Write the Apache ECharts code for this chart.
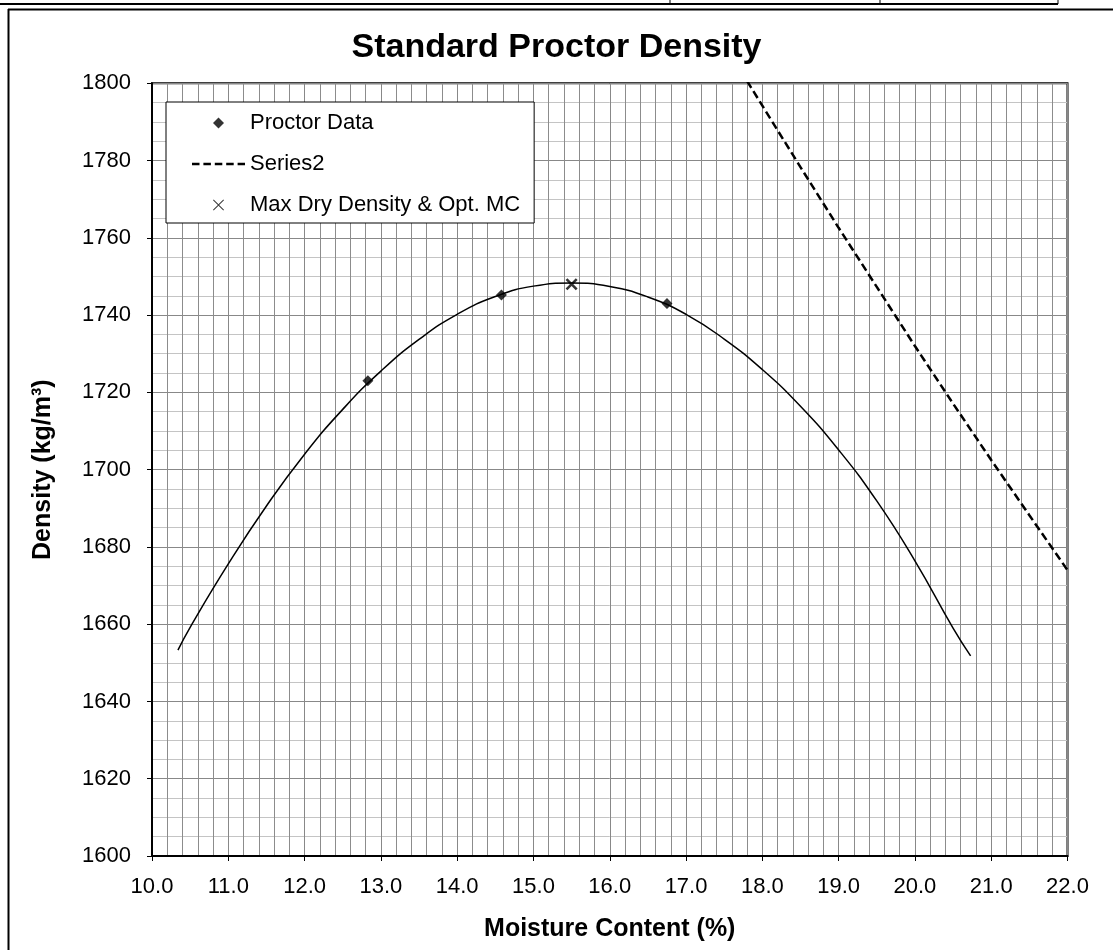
<!DOCTYPE html>
<html>
<head>
<meta charset="utf-8">
<script src="https://cdn.jsdelivr.net/npm/echarts@6/dist/echarts.min.js"></script>
<style>
html,body{margin:0;padding:0;background:#fff;}
#chart{width:1113px;height:950px;}
</style>
</head>
<body>
<div id="chart"></div>
<script>
// Proctor test data points (moisture %, dry density kg/m3)
const proctorMC = [12.83, 14.58, 16.75];
const proctorDensity = [1723.0, 1745.2, 1743.0];

// Fitted compaction curve
const curveMC = [10.34, 10.5, 11.0, 11.5, 12.0, 12.5, 13.0, 13.5, 14.0, 14.5, 15.0, 15.5, 16.0, 16.5, 17.0, 17.5, 18.0, 18.5, 19.0, 19.5, 20.0, 20.5, 20.73];
const curveDensity = [1653.3, 1659.2, 1675.6, 1690.6, 1704.0, 1715.6, 1725.5, 1733.7, 1740.2, 1744.8, 1747.5, 1748.3, 1747.4, 1744.7, 1740.2, 1733.8, 1725.9, 1716.4, 1705.1, 1691.9, 1676.4, 1659.0, 1651.8];

// Series2 (dashed line)
const series2MC = [17.8, 18.0, 18.5, 19.0, 19.5, 20.0, 20.5, 21.0, 21.5, 22.0];
const series2Density = [1800.6, 1794.2, 1778.3, 1762.6, 1747.3, 1732.0, 1717.1, 1702.5, 1688.2, 1674.0];

// Max dry density & optimum moisture content
const maxMC = [15.5];
const maxDensity = [1748.0];

const zip = (a, b) => a.map((v, i) => [v, b[i]]);

const FONT = "'Liberation Sans', Arial, sans-serif";
const xThick = 'path://M0,1.5 L1.5,0 L5,3.5 L8.5,0 L10,1.5 L6.5,5 L10,8.5 L8.5,10 L5,6.5 L1.5,10 L0,8.5 L3.5,5 Z';
const xThin = 'path://M0,0.6 L0.6,0 L5,4.4 L9.4,0 L10,0.6 L5.6,5 L10,9.4 L9.4,10 L5,5.6 L0.6,10 L0,9.4 L4.4,5 Z';
const diamondPath = 'path://M5,0 L10,5 L5,10 L0,5 Z';
const dashIcon = 'path://M0,0h7.5v2.6h-7.5z M11.4,0h7.5v2.6h-7.5z M22.8,0h7.5v2.6h-7.5z M34.2,0h7.5v2.6h-7.5z M45.6,0h7.4v2.6h-7.4z';

const chart = echarts.init(document.getElementById('chart'), null, {renderer: 'canvas'});
chart.setOption({
  backgroundColor: '#fff',
  animation: false,
  title: {
    text: 'Standard Proctor Density',
    left: 'center',
    top: 26,
    textStyle: {fontFamily: FONT, fontSize: 34, fontWeight: 'bold', color: '#000'}
  },
  legend: {
    orient: 'vertical',
    left: 166,
    top: 102,
    padding: [10, 14, 7, 26],
    backgroundColor: '#fff',
    borderColor: '#000',
    borderWidth: 1,
    itemWidth: 53,
    itemHeight: 11,
    itemGap: 19,
    symbolKeepAspect: true,
    textStyle: {fontFamily: FONT, fontSize: 22, color: '#000', lineHeight: 22},
    data: [
      {name: 'Proctor Data', icon: diamondPath},
      {name: 'Series2', icon: dashIcon},
      {name: 'Max Dry Density & Opt. MC', icon: xThin}
    ]
  },
  grid: {
    left: 152, right: 45.5, top: 83.3, bottom: 94,
    show: true, borderColor: '#000', borderWidth: 2
  },
  xAxis: {
    type: 'value',
    min: 10, max: 22, interval: 1,
    axisLine: {show: true, onZero: false, lineStyle: {color: '#000', width: 2}},
    axisTick: {show: true, length: 5, lineStyle: {color: '#000', width: 1}},
    axisLabel: {fontFamily: FONT, fontSize: 22, color: '#000', margin: 20,
      formatter: v => v.toFixed(1)},
    splitLine: {show: true, lineStyle: {color: '#888', width: 1}},
    minorTick: {show: false, splitNumber: 5},
    minorSplitLine: {show: true, lineStyle: {color: '#8c8c8c', width: 1}},
    name: 'Moisture Content (%)',
    nameLocation: 'middle',
    nameGap: 61,
    nameTextStyle: {fontFamily: FONT, fontSize: 25, fontWeight: 'bold', color: '#000'}
  },
  yAxis: {
    type: 'value',
    min: 1600, max: 1800, interval: 20,
    axisLine: {show: true, onZero: false, lineStyle: {color: '#000', width: 2}},
    axisTick: {show: true, length: 5, lineStyle: {color: '#000', width: 1}},
    axisLabel: {fontFamily: FONT, fontSize: 22, color: '#000', margin: 21,
      formatter: v => String(v)},
    splitLine: {show: true, lineStyle: {color: '#888', width: 1}},
    minorTick: {show: false, splitNumber: 4},
    minorSplitLine: {show: true, lineStyle: {color: '#c4c4c4', width: 1}},
    name: 'Density (kg/m³)',
    nameLocation: 'middle',
    nameGap: 96,
    nameTextStyle: {fontFamily: FONT, fontSize: 25, fontWeight: 'bold', color: '#000'}
  },
  series: [
    {
      name: 'Curve',
      type: 'line',
      data: zip(curveMC, curveDensity),
      smooth: true,
      showSymbol: false,
      symbol: 'none',
      lineStyle: {color: '#000', width: 1.5},
      z: 3
    },
    {
      name: 'Series2',
      type: 'line',
      data: zip(series2MC, series2Density),
      symbol: 'none',
      showSymbol: false,
      lineStyle: {color: '#000', width: 2.5, type: [8, 4]},
      itemStyle: {color: '#000'},
      clip: true,
      z: 3
    },
    {
      name: 'Proctor Data',
      type: 'scatter',
      data: zip(proctorMC, proctorDensity),
      symbol: 'diamond',
      symbolSize: 11,
      itemStyle: {color: '#000'},
      z: 4
    },
    {
      name: 'Max Dry Density & Opt. MC',
      type: 'scatter',
      data: zip(maxMC, maxDensity),
      symbol: xThick,
      symbolSize: 12,
      itemStyle: {color: '#000'},
      z: 4
    }
  ],
  graphic: [
    {type: 'line', shape: {x1: 0, y1: 4, x2: 1058, y2: 4}, style: {stroke: '#000', lineWidth: 2}, silent: true},
    {type: 'line', shape: {x1: 670, y1: 0, x2: 670, y2: 4}, style: {stroke: '#000', lineWidth: 1}, silent: true},
    {type: 'line', shape: {x1: 880, y1: 0, x2: 880, y2: 4}, style: {stroke: '#000', lineWidth: 1}, silent: true},
    {type: 'line', shape: {x1: 1058, y1: 0, x2: 1058, y2: 4}, style: {stroke: '#000', lineWidth: 1}, silent: true},
    {type: 'line', shape: {x1: 8, y1: 9.5, x2: 1113, y2: 9.5}, style: {stroke: '#000', lineWidth: 2}, silent: true},
    {type: 'line', shape: {x1: 8.5, y1: 9, x2: 8.5, y2: 950}, style: {stroke: '#000', lineWidth: 2}, silent: true}
  ]
});
</script>
</body>
</html>
